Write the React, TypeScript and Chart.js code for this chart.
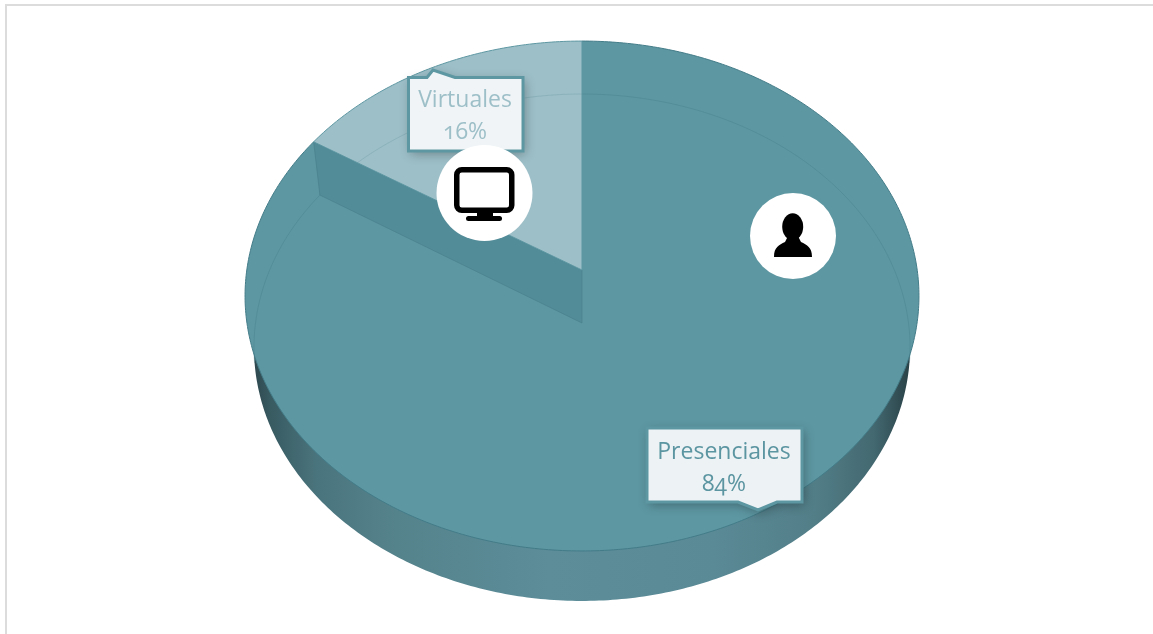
import React, { useEffect, useRef } from "react";
import { Chart, registerables, ArcElement, PieController } from "chart.js";

const categories = ["Presenciales", "Virtuales"];
const shareValues = [84, 16];
const sliceColors = ["#5d97a2", "#9dbfc8"];
const labelColors = ["#5b95a1", "#9dbfc8"];

type Plane = { cx: number; cy: number; a: number; b: number; k: number };
const TOP: Plane = { cx: 582, cy: 270, a: 335.2, b: 252.3, k: -0.102 };
const FLOOR: Plane = { cx: 582, cy: 323, a: 326.5, b: 251.1, k: -0.0966 };

function project(p: Plane, angle: number) {
  const u = Math.cos(angle);
  const v = Math.sin(angle);
  const d = 1 + p.k * v;
  return { x: p.cx + (p.a * u) / d, y: p.cy + (p.b * v) / d };
}

function traceArc(ctx: CanvasRenderingContext2D, p: Plane, a0: number, a1: number, move = true) {
  const n = Math.max(8, Math.ceil(Math.abs(a1 - a0) * 80));
  for (let i = 0; i <= n; i++) {
    const q = project(p, a0 + ((a1 - a0) * i) / n);
    if (i === 0 && move) ctx.moveTo(q.x, q.y);
    else ctx.lineTo(q.x, q.y);
  }
}

function wedge(ctx: CanvasRenderingContext2D, p: Plane, a0: number, a1: number) {
  ctx.beginPath();
  ctx.moveTo(p.cx, p.cy);
  traceArc(ctx, p, a0, a1, false);
  ctx.closePath();
}

class Arc3D extends ArcElement {
  static id = "arc3d";
  draw(ctx: CanvasRenderingContext2D) {
    const { startAngle: a0, endAngle: a1 } = (this as any).getProps(["startAngle", "endAngle"]);
    const fill = (this as any).options.backgroundColor as string;
    const large = a1 - a0 > Math.PI;
    ctx.save();
    if (large) {
      const g = ctx.createLinearGradient(250, 0, 914, 0);
      g.addColorStop(0, "#2c444a");
      g.addColorStop(0.03, "#385a61");
      g.addColorStop(0.1, "#4a747d");
      g.addColorStop(0.22, "#55838c");
      g.addColorStop(0.45, "#5c8d99");
      g.addColorStop(0.7, "#5a8a96");
      g.addColorStop(0.85, "#527e88");
      g.addColorStop(0.94, "#436870");
      g.addColorStop(1, "#263d42");
      wedge(ctx, FLOOR, a0, a1);
      ctx.fillStyle = g;
      ctx.fill();
      wedge(ctx, TOP, a0, a1);
      ctx.fillStyle = fill;
      ctx.fill();
      // rim of the top face
      ctx.beginPath();
      traceArc(ctx, TOP, a0, a1);
      ctx.strokeStyle = "#437c88";
      ctx.lineWidth = 1;
      ctx.stroke();
      // floor seen through the top face (only the back part shows)
      const mid = Math.PI * 0.05;
      ctx.beginPath();
      traceArc(ctx, FLOOR, a0, mid);
      ctx.strokeStyle = "rgba(66,122,134,0.35)";
      ctx.stroke();
      ctx.beginPath();
      traceArc(ctx, FLOOR, Math.PI - mid, a1);
      ctx.stroke();
      // cut wall of the slice
      const t = project(TOP, a1);
      const f = project(FLOOR, a1);
      ctx.beginPath();
      ctx.moveTo(t.x, t.y);
      ctx.lineTo(f.x, f.y);
      ctx.lineTo(FLOOR.cx, FLOOR.cy);
      ctx.lineTo(TOP.cx, TOP.cy);
      ctx.closePath();
      ctx.fillStyle = "#538c99";
      ctx.fill();
      ctx.strokeStyle = "rgba(70,125,137,0.6)";
      ctx.stroke();
    } else {
      wedge(ctx, TOP, a0, a1);
      ctx.fillStyle = fill;
      ctx.fill();
      ctx.save();
      ctx.clip();
      ctx.beginPath();
      traceArc(ctx, FLOOR, a0, a1);
      ctx.strokeStyle = "rgba(125,167,177,0.55)";
      ctx.lineWidth = 1;
      ctx.stroke();
      ctx.restore();
      wedge(ctx, TOP, a0, a1);
      ctx.strokeStyle = "#5d97a2";
      ctx.lineWidth = 1;
      ctx.stroke();
    }
    ctx.restore();
  }
}

class Pie3D extends PieController {
  static id = "pie3d";
  static defaults = { dataElementType: "arc3d" };
}

function callout(
  ctx: CanvasRenderingContext2D,
  x0: number, y0: number, x1: number, y1: number,
  pointer: number[][], bg: string, border: string, lw: number
) {
  ctx.save();
  ctx.beginPath();
  ctx.moveTo(x0, y0);
  if (pointer[0][1] <= y0) pointer.forEach(([x, y]) => ctx.lineTo(x, y));
  ctx.lineTo(x1, y0);
  ctx.lineTo(x1, y1);
  if (pointer[0][1] >= y1) [...pointer].reverse().forEach(([x, y]) => ctx.lineTo(x, y));
  ctx.lineTo(x0, y1);
  ctx.closePath();
  ctx.shadowColor = "rgba(0,0,0,0.3)";
  ctx.shadowBlur = 11;
  ctx.shadowOffsetX = 2;
  ctx.shadowOffsetY = 3;
  ctx.fillStyle = bg;
  ctx.fill();
  ctx.shadowColor = "transparent";
  ctx.lineWidth = lw;
  ctx.strokeStyle = border;
  ctx.lineJoin = "miter";
  ctx.stroke();
  ctx.restore();
}

function roundRect(ctx: CanvasRenderingContext2D, x: number, y: number, w: number, h: number, r: number) {
  ctx.beginPath();
  ctx.roundRect(x, y, w, h, r);
}

const overlay = {
  id: "overlay",
  afterDatasetsDraw(chart: any) {
    const ctx: CanvasRenderingContext2D = chart.ctx;
    ctx.save();
    ctx.fillStyle = "#ffffff";
    ctx.beginPath();
    ctx.arc(793, 236, 43, 0, Math.PI * 2);
    ctx.fill();

    callout(ctx, 408.5, 77.5, 523, 151, [[427, 77.5], [433, 70], [455, 77.5]], "#f0f4f6", "#5d97a2", 3);
    ctx.fillStyle = "#ffffff";
    ctx.beginPath();
    ctx.arc(484.5, 193, 48, 0, Math.PI * 2);
    ctx.fill();

    callout(ctx, 647, 428, 802, 502, [[738, 502], [758, 510], [777, 502]], "#edf2f4", "#5d97a2", 3);

    // monitor icon
    ctx.fillStyle = "#000000";
    ctx.strokeStyle = "#000000";
    ctx.lineWidth = 5.5;
    roundRect(ctx, 456.75, 169.75, 55, 40.5, 5);
    ctx.stroke();
    ctx.fillRect(477, 212, 16, 6);
    roundRect(ctx, 466, 216, 36, 5, 2.5);
    ctx.fill();

    // person icon
    ctx.beginPath();
    ctx.ellipse(792.7, 226.7, 10.5, 13.5, 0, 0, Math.PI * 2);
    ctx.fill();
    ctx.beginPath();
    ctx.moveTo(774, 257);
    ctx.bezierCurveTo(774, 247, 779, 245, 785, 242);
    ctx.lineTo(788, 236);
    ctx.lineTo(798, 236);
    ctx.lineTo(801, 242);
    ctx.bezierCurveTo(807, 245, 812, 247, 812, 257);
    ctx.closePath();
    ctx.fill();
    ctx.restore();
  },
};

Chart.register(...registerables, Arc3D, Pie3D);

const labelBoxes = [
  { cx: 724, y1: 450, y2: 482 },
  { cx: 465, y1: 98, y2: 130 },
];

export default function App() {
  const ref = useRef<HTMLCanvasElement>(null);
  useEffect(() => {
    const chart = new Chart(ref.current!, {
      type: "pie3d" as any,
      data: {
        labels: categories,
        datasets: [{ data: shareValues, backgroundColor: sliceColors, borderWidth: 0 }],
      },
      options: {
        responsive: false,
        animation: false,
        events: [],
        plugins: { legend: { display: false }, tooltip: { enabled: false } },
      },
      plugins: [overlay],
    } as any);
    return () => chart.destroy();
  }, []);
  const textStyle = (i: number, y: number): React.CSSProperties => ({
    position: "absolute",
    left: labelBoxes[i].cx - 100,
    width: 200,
    top: y - 17,
    height: 34,
    textAlign: "center",
    font: '400 23px/34px "Open Sans"',
    fontFeatureSettings: '"onum" 1',
    color: labelColors[i],
  });
  return (
    <div style={{ position: "fixed", left: 0, top: 0, width: 1153, height: 634, background: "#fff", overflow: "hidden" }}>
      <div style={{ position: "absolute", left: 5, top: 4, right: 0, bottom: 0, borderLeft: "2px solid #dcdcdc", borderTop: "2px solid #dcdcdc" }} />
      <canvas ref={ref} width={1153} height={634} style={{ position: "absolute", left: 0, top: 0, display: "block" }} />
      {categories.map((name, i) => (
        <React.Fragment key={name}>
          <div style={textStyle(i, labelBoxes[i].y1)}>{name}</div>
          <div style={textStyle(i, labelBoxes[i].y2)}>{shareValues[i]}%</div>
        </React.Fragment>
      ))}
    </div>
  );
}
